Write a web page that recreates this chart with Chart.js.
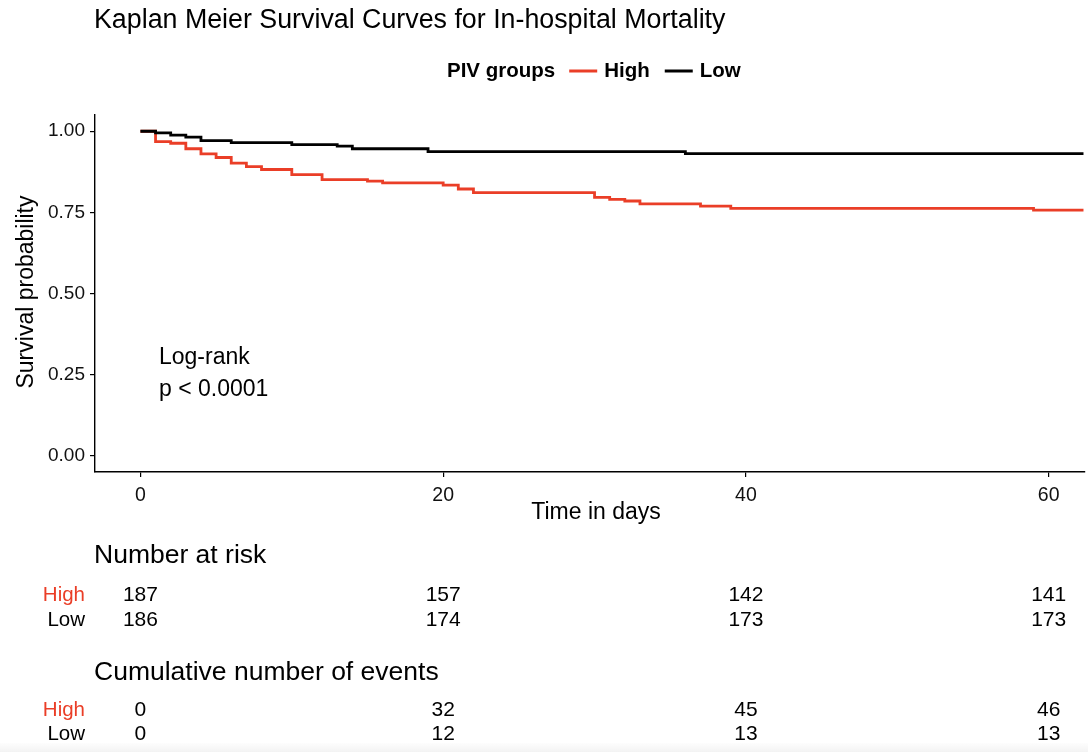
<!DOCTYPE html>
<html>
<head>
<meta charset="utf-8">
<script src="https://cdn.jsdelivr.net/npm/chart.js@4"></script>
<style>
  html, body { margin: 0; padding: 0; background: #fff; }
  #wrap { position: relative; width: 1088px; height: 752px; }
  #shade { position: absolute; left: 0; right: 0; bottom: 0; height: 9px;
           background: linear-gradient(#fdfdfd, #f3f3f3); }
</style>
</head>
<body>
<div id="wrap">
  <canvas id="km" width="1088" height="752"></canvas>
  <div id="shade"></div>
</div>
<script>
// 生存曲線（読み取り値）
const highDays = [0, 1, 2, 3, 4, 5, 6, 7, 8, 10, 12, 15, 16, 20, 21, 22, 30, 31, 32, 33, 37, 39, 59, 62.3];
const highSurv = [1, 0.968, 0.963, 0.946, 0.930, 0.919, 0.902, 0.891, 0.882, 0.866, 0.851, 0.846, 0.841,
                  0.834, 0.822, 0.811, 0.796, 0.790, 0.785, 0.776, 0.769, 0.762, 0.757, 0.757];
const lowDays = [0, 1, 2, 3, 4, 6, 10, 13, 14, 19, 36, 62.3];
const lowSurv = [1, 0.995, 0.988, 0.982, 0.971, 0.965, 0.959, 0.954, 0.946, 0.937, 0.931, 0.931];

// 軸の目盛り
const xTicks = [0, 20, 40, 60];
const yTicks = [0, 0.25, 0.5, 0.75, 1];

// リスクテーブル
const tableDays = [0, 20, 40, 60];
const riskHigh = [187, 157, 142, 141];
const riskLow = [186, 174, 173, 173];
const eventsHigh = [0, 32, 45, 46];
const eventsLow = [0, 12, 13, 13];

const RED = '#ea3e27';
const FONT = '"Liberation Sans", Arial, Helvetica, sans-serif';

function toPoints(days, surv) {
    return days.map((d, i) => ({ x: d, y: surv[i] }));
}

// タイトル・凡例・テーブルなどの文字を描くプラグイン
const textPlugin = {
    id: 'kmText',
    afterDraw(chart) {
        const ctx = chart.ctx;
        const xs = chart.scales.x;
        ctx.save();
        ctx.fillStyle = '#000';
        ctx.textBaseline = 'middle';

        // タイトル
        ctx.font = '26.8px ' + FONT;
        ctx.textAlign = 'left';
        ctx.fillText('Kaplan Meier Survival Curves for In-hospital Mortality', 94, 21);

        // 凡例
        ctx.font = 'bold 20.5px ' + FONT;
        let lx = 447;
        ctx.fillText('PIV groups', lx, 71);
        lx += ctx.measureText('PIV groups').width + 14;
        [['High', RED], ['Low', '#000']].forEach(([name, col]) => {
            ctx.strokeStyle = col;
            ctx.lineWidth = 3;
            ctx.beginPath();
            ctx.moveTo(lx, 71);
            ctx.lineTo(lx + 28, 71);
            ctx.stroke();
            lx += 35;
            ctx.fillStyle = '#000';
            ctx.fillText(name, lx, 71);
            lx += ctx.measureText(name).width + 15;
        });

        // 軸タイトル
        ctx.font = '23px ' + FONT;
        ctx.textAlign = 'center';
        ctx.fillText('Time in days', 596, 513);
        ctx.save();
        ctx.translate(27, 292);
        ctx.rotate(-Math.PI / 2);
        ctx.fillText('Survival probability', 0, 0);
        ctx.restore();

        // ログランク検定
        ctx.font = '23px ' + FONT;
        ctx.textAlign = 'left';
        ctx.fillText('Log-rank', 159, 358);
        ctx.fillText('p < 0.0001', 159, 390);

        // テーブル
        ctx.font = '26.5px ' + FONT;
        ctx.fillText('Number at risk', 94, 556);
        ctx.fillText('Cumulative number of events', 94, 673);

        function drawRow(label, color, values, y) {
            ctx.font = '20.5px ' + FONT;
            ctx.textAlign = 'right';
            ctx.fillStyle = color;
            ctx.fillText(label, 85, y);
            ctx.fillStyle = '#000';
            ctx.textAlign = 'center';
            ctx.font = '21px ' + FONT;
            values.forEach((v, i) => {
                ctx.fillText(String(v), xs.getPixelForValue(tableDays[i]), y);
            });
        }
        drawRow('High', RED, riskHigh, 595);
        drawRow('Low', '#000', riskLow, 620);
        drawRow('High', RED, eventsHigh, 710);
        drawRow('Low', '#000', eventsLow, 734);

        ctx.restore();
    }
};

const ctx = document.getElementById('km').getContext('2d');
new Chart(ctx, {
    type: 'line',
    data: {
        datasets: [
            {
                label: 'Low',
                data: toPoints(lowDays, lowSurv),
                borderColor: '#000',
                borderWidth: 2.8,
                stepped: 'before',
                pointRadius: 0,
                fill: false,
                order: 0
            },
            {
                label: 'High',
                data: toPoints(highDays, highSurv),
                borderColor: RED,
                borderWidth: 2.8,
                stepped: 'before',
                pointRadius: 0,
                fill: false,
                order: 1
            }
        ]
    },
    options: {
        responsive: false,
        animation: false,
        layout: { padding: { top: 115, left: 0, right: 3, bottom: 250 } },
        plugins: {
            legend: { display: false },
            title: { display: false },
            tooltip: { enabled: false }
        },
        scales: {
            x: {
                type: 'linear',
                min: -3,
                max: 62.4,
                afterBuildTicks: (s) => { s.ticks = xTicks.map(v => ({ value: v })); },
                afterFit: (s) => { s.height = 30; },
                grid: { drawOnChartArea: false, drawTicks: true, tickLength: 5, color: '#000', lineWidth: 1.2 },
                border: { display: true, color: '#000', width: 1.4 },
                ticks: { color: '#111', font: { family: FONT, size: 19.5 }, padding: 7, maxRotation: 0 }
            },
            y: {
                type: 'linear',
                min: -0.05,
                max: 1.05,
                afterBuildTicks: (s) => { s.ticks = yTicks.map(v => ({ value: v })); },
                afterFit: (s) => { s.width = 95; },
                grid: { drawOnChartArea: false, drawTicks: true, tickLength: 5, color: '#000', lineWidth: 1.2 },
                border: { display: true, color: '#000', width: 1.4 },
                ticks: {
                    color: '#111',
                    font: { family: FONT, size: 19 },
                    padding: 5,
                    callback: (v) => v.toFixed(2)
                }
            }
        }
    },
    plugins: [textPlugin]
});
</script>
</body>
</html>
